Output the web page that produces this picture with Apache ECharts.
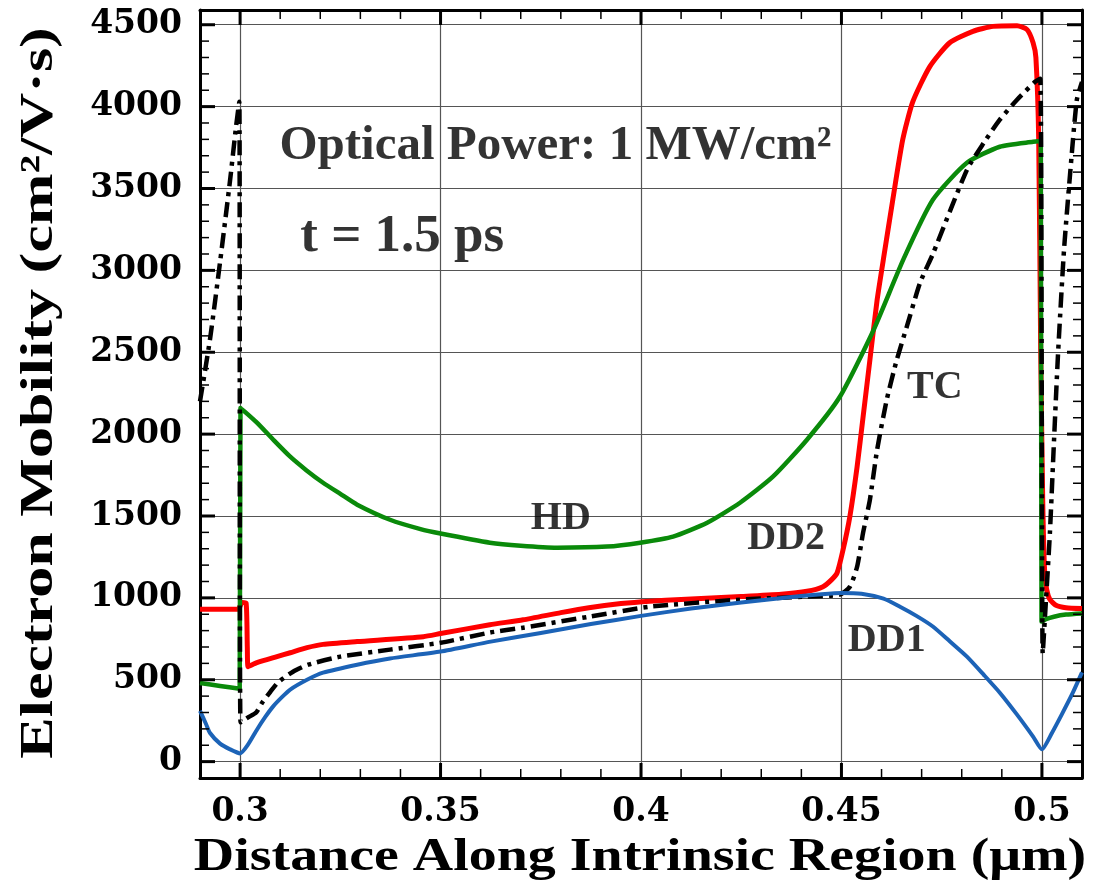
<!DOCTYPE html>
<html><head><meta charset="utf-8">
<script src="https://cdn.jsdelivr.net/npm/echarts@6/dist/echarts.min.js"></script>
<style>html,body{margin:0;padding:0;background:#fff}#c{width:1093px;height:895px}</style>
</head><body><div id="c"></div>
<script>
// ---- tick values / labels ----
const xMajor = [0.3, 0.35, 0.4, 0.45, 0.5];
const xMajorLabels = ['0.3', '0.35', '0.4', '0.45', '0.5'];
const xMinor = [0.31, 0.32, 0.33, 0.34, 0.36, 0.37, 0.38, 0.39, 0.41, 0.42, 0.43, 0.44, 0.46, 0.47, 0.48, 0.49];
const yMajor = [0, 500, 1000, 1500, 2000, 2500, 3000, 3500, 4000, 4500];
const yMajorLabels = ['0', '500', '1000', '1500', '2000', '2500', '3000', '3500', '4000', '4500'];
const yMinor = [100, 200, 300, 400, 600, 700, 800, 900, 1100, 1200, 1300, 1400, 1600, 1700, 1800, 1900, 2100, 2200, 2300, 2400, 2600, 2700, 2800, 2900, 3100, 3200, 3300, 3400, 3600, 3700, 3800, 3900, 4100, 4200, 4300, 4400];

// ---- DD1 (blue) ----
const dd1X = [0.29, 0.2915, 0.2925, 0.295, 0.2975, 0.3, 0.302, 0.3042, 0.3062, 0.3082, 0.3105, 0.3125, 0.3167, 0.3207, 0.3292, 0.3374, 0.35, 0.3625, 0.375, 0.3875, 0.4, 0.4125, 0.425, 0.4375, 0.445, 0.45, 0.455, 0.4605, 0.4646, 0.4687, 0.4728, 0.477, 0.4813, 0.4855, 0.4895, 0.4937, 0.4978, 0.5, 0.5025, 0.505, 0.5075, 0.51];
const dd1Y = [310, 230, 175, 110, 75, 50, 105, 195, 270, 336, 395, 440, 500, 543, 592, 630, 672, 733, 785, 840, 890, 935, 972, 1005, 1022, 1030, 1025, 995, 946, 890, 825, 735, 641, 530, 421, 290, 153, 75, 175, 290, 410, 545];

// ---- DD2 (red) ----
const dd2X = [0.29, 0.2995, 0.3, 0.3005, 0.3015, 0.3018, 0.302, 0.3042, 0.3092, 0.3125, 0.3167, 0.3207, 0.3292, 0.3457, 0.35, 0.3623, 0.3706, 0.38, 0.387, 0.395, 0.4022, 0.41, 0.425, 0.435, 0.4414, 0.4454, 0.4475, 0.4489, 0.4504, 0.4521, 0.4539, 0.4554, 0.4571, 0.4589, 0.4608, 0.4628, 0.4653, 0.4678, 0.472, 0.477, 0.4828, 0.4878, 0.4938, 0.4963, 0.4978, 0.4985, 0.4992, 0.4997, 0.5002, 0.5007, 0.5012, 0.502, 0.5035, 0.506, 0.51];
const dd2Y = [930, 930, 950, 972, 968, 700, 580, 604, 641, 665, 696, 716, 733, 763, 782, 836, 866, 910, 940, 965, 980, 990, 1008, 1022, 1040, 1068, 1110, 1152, 1294, 1497, 1800, 2106, 2454, 2820, 3120, 3431, 3800, 4030, 4243, 4390, 4460, 4490, 4494, 4470, 4390, 4300, 3800, 2500, 1600, 1150, 1050, 990, 955, 940, 935];

// ---- HD (green) ----
const hdX = [0.29, 0.295, 0.2999, 0.3001, 0.3042, 0.3085, 0.3125, 0.3165, 0.3207, 0.325, 0.3292, 0.3374, 0.345, 0.35, 0.3623, 0.37, 0.3791, 0.3915, 0.3998, 0.408, 0.4165, 0.4247, 0.4329, 0.4414, 0.4496, 0.4579, 0.4655, 0.4728, 0.4813, 0.4895, 0.4978, 0.4997, 0.4999, 0.501, 0.503, 0.506, 0.51];
const hdY = [480, 462, 445, 2160, 2070, 1960, 1862, 1780, 1703, 1635, 1569, 1477, 1420, 1393, 1337, 1318, 1306, 1313, 1337, 1374, 1459, 1581, 1740, 1966, 2228, 2630, 3070, 3431, 3657, 3755, 3785, 3790, 855, 870, 885, 898, 905];

// ---- TC (black dash-dot) ----
const tcX = [0.29, 0.2925, 0.295, 0.2975, 0.299, 0.2998, 0.3001, 0.302, 0.304, 0.3055, 0.3075, 0.3095, 0.3132, 0.317, 0.325, 0.3374, 0.35, 0.3623, 0.3706, 0.3873, 0.4022, 0.4247, 0.4414, 0.4496, 0.4521, 0.4539, 0.4554, 0.4571, 0.4589, 0.4613, 0.4638, 0.4663, 0.4696, 0.4728, 0.4813, 0.4855, 0.4895, 0.4938, 0.4983, 0.4996, 0.5002, 0.501, 0.502, 0.503, 0.504, 0.5055, 0.507, 0.5087, 0.51];
const tcY = [2200, 2580, 3050, 3550, 3880, 4030, 240, 270, 300, 360, 425, 485, 549, 592, 641, 684, 726, 788, 818, 886, 946, 989, 1008, 1020, 1068, 1190, 1398, 1600, 1905, 2210, 2454, 2656, 2924, 3100, 3614, 3779, 3920, 4042, 4152, 4170, 660, 980, 1400, 1950, 2480, 3120, 3580, 4040, 4150];

// ---- annotations ----
const curveLabels = ['HD', 'DD2', 'TC', 'DD1'];
const curveLabelX = [0.380, 0.4362, 0.4733, 0.4613];
const curveLabelY = [1484, 1362, 2284, 739];
const noteTexts = ['Optical Power: 1 MW/cm²', 't = 1.5 ps'];
const noteX = [0.3098, 0.315];
const noteY = [3760, 3199];
const noteSizes = [49, 53];

const xTitle = 'Distance Along Intrinsic Region (μm)';
const yTitle = 'Electron Mobility (cm²/V·s)';

const zip = (xs, ys) => xs.map((x, i) => [x, ys[i]]);

const X0 = 0.29, X1 = 0.51, Y0 = -100, Y1 = 4590;
const tickFont = {fontFamily: 'DejaVu Serif', fontWeight: 'bold', fontSize: 33, color: '#000'};
const MAJOR_LEN = 15, MAJOR_W = 3, MINOR_LEN = 9, MINOR_W = 1.5;

function mainAxis(pos, showLabels, vals, lbls, split, splitNumber) {
  const horiz = (pos === 'bottom' || pos === 'top');
  return {
    type: 'value', position: pos, min: horiz ? X0 : Y0, max: horiz ? X1 : Y1,
    splitNumber: splitNumber,
    axisLine: {show: true, onZero: false, lineStyle: {color: '#000', width: 3}},
    axisTick: {show: false},
    axisLabel: Object.assign({show: showLabels, customValues: vals, margin: 18,
      formatter: v => { const i = vals.findIndex(t => Math.abs(t - v) < 1e-9); return i >= 0 ? lbls[i] : ''; }}, tickFont),
    splitLine: {show: split, lineStyle: {color: '#555', width: 1.2}}
  };
}

const lines = [
  {name: 'DD2', data: zip(dd2X, dd2Y), color: '#ff0000', width: 5},
  {name: 'HD', data: zip(hdX, hdY), color: '#0a8a0a', width: 4.5},
  {name: 'TC', data: zip(tcX, tcY), color: '#000000', width: 4.5, dash: [15, 6, 4, 6]},
  {name: 'DD1', data: zip(dd1X, dd1Y), color: '#1c63b7', width: 4}
].map(s => ({
  type: 'line', name: s.name, data: s.data, xAxisIndex: 0, yAxisIndex: 0,
  showSymbol: false, symbol: 'none', smooth: 0.2, clip: true, z: 3,
  lineStyle: {color: s.color, width: s.width, type: s.dash || 'solid', cap: 'butt', join: 'round'},
  emphasis: {disabled: true}
}));

// tick marks on all four sides, placed through the axes' scales
const xTickData = xMajor.map(v => [v, Y0, MAJOR_LEN, MAJOR_W]).concat(xMinor.map(v => [v, Y0, MINOR_LEN, MINOR_W]));
const yTickData = yMajor.map(v => [X0, v, MAJOR_LEN, MAJOR_W]).concat(yMinor.map(v => [X0, v, MINOR_LEN, MINOR_W]));
const xTickSeries = {
  type: 'custom', name: 'x ticks', xAxisIndex: 0, yAxisIndex: 0, silent: true, clip: false, z: 5,
  data: xTickData,
  renderItem: (params, api) => {
    const v = api.value(0), len = api.value(2), w = api.value(3);
    const pb = api.coord([v, Y0]), pt = api.coord([v, Y1]);
    return {type: 'group', children: [
      {type: 'line', shape: {x1: pb[0], y1: pb[1], x2: pb[0], y2: pb[1] - len}, style: {stroke: '#000', lineWidth: w}},
      {type: 'line', shape: {x1: pt[0], y1: pt[1], x2: pt[0], y2: pt[1] + len}, style: {stroke: '#000', lineWidth: w}}
    ]};
  }
};
const yTickSeries = {
  type: 'custom', name: 'y ticks', xAxisIndex: 0, yAxisIndex: 0, silent: true, clip: false, z: 5,
  data: yTickData,
  renderItem: (params, api) => {
    const v = api.value(1), len = api.value(2), w = api.value(3);
    const pl = api.coord([X0, v]), pr = api.coord([X1, v]);
    return {type: 'group', children: [
      {type: 'line', shape: {x1: pl[0], y1: pl[1], x2: pl[0] + len, y2: pl[1]}, style: {stroke: '#000', lineWidth: w}},
      {type: 'line', shape: {x1: pr[0], y1: pr[1], x2: pr[0] - len, y2: pr[1]}, style: {stroke: '#000', lineWidth: w}}
    ]};
  }
};

const labelSeries = {
  type: 'scatter', name: 'curve labels', xAxisIndex: 0, yAxisIndex: 0, silent: true, z: 10,
  symbol: 'circle', symbolSize: 0, itemStyle: {color: 'rgba(0,0,0,0)'},
  data: curveLabels.map((t, i) => ({name: t, value: [curveLabelX[i], curveLabelY[i]]})),
  label: {show: true, position: 'inside', formatter: '{b}', fontFamily: 'Liberation Serif', fontWeight: 'bold', fontSize: 40, color: '#000', align: 'center', verticalAlign: 'middle'},
  emphasis: {disabled: true}
};
const noteSeries = {
  type: 'scatter', name: 'notes', xAxisIndex: 0, yAxisIndex: 0, silent: true, z: 10,
  symbol: 'circle', symbolSize: 0, itemStyle: {color: 'rgba(0,0,0,0)'},
  data: noteTexts.map((t, i) => ({name: t, value: [noteX[i], noteY[i]], label: {fontSize: noteSizes[i]}})),
  label: {show: true, position: 'inside', formatter: '{b}', fontFamily: 'Liberation Serif', fontWeight: 'bold', fontSize: 48, color: '#000', align: 'left', verticalAlign: 'middle'},
  emphasis: {disabled: true}
};

const chart = echarts.init(document.getElementById('c'));
chart.setOption({
  animation: false,
  backgroundColor: '#fff',
  grid: {left: 200, top: 10, width: 882, height: 768},
  xAxis: [
    mainAxis('bottom', true, xMajor, xMajorLabels, true, 4),
    mainAxis('top', false, xMajor, xMajorLabels, false, 4)
  ],
  yAxis: [
    mainAxis('left', true, yMajor, yMajorLabels, true, 9),
    mainAxis('right', false, yMajor, yMajorLabels, false, 9)
  ],
  series: lines.concat([xTickSeries, yTickSeries, labelSeries, noteSeries]),
  graphic: [
    {type: 'text', x: 640, y: 858, scaleX: 1.19, z: 100,
      style: {text: xTitle, font: 'bold 47px "Liberation Serif"', fill: '#000', align: 'center', verticalAlign: 'middle'}},
    {type: 'text', x: 40, y: 393, rotation: Math.PI / 2, scaleX: 1.35, z: 100,
      style: {text: yTitle, font: 'bold 46px "Liberation Serif"', fill: '#000', align: 'center', verticalAlign: 'middle'}}
  ]
});
</script></body></html>
